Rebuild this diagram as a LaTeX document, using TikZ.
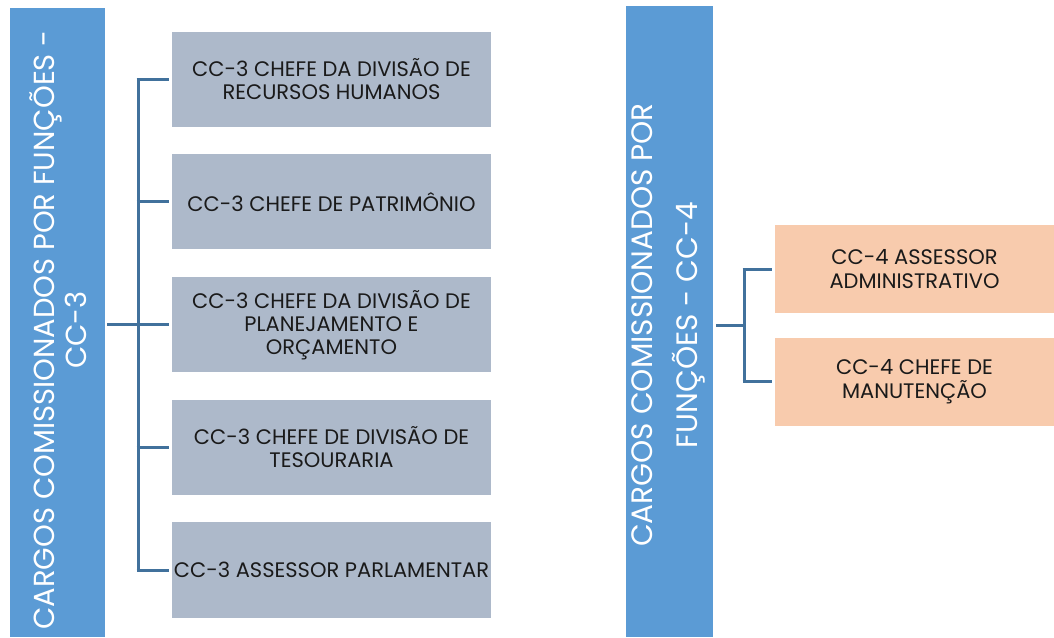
\documentclass[tikz,border=0pt]{standalone}
\usepackage{fontspec}
\setmainfont{Poppins}
\definecolor{barblue}{HTML}{5B9BD5}
\definecolor{boxgray}{HTML}{ADB9CA}
\definecolor{boxpeach}{HTML}{F8CBAD}
\definecolor{linkblue}{HTML}{41719C}
\definecolor{txtdark}{HTML}{1A1A1A}
\tikzset{
  headbar/.style={fill=barblue, draw=none, inner sep=0pt, rectangle},
  headtext/.style={text=white, align=center, inner sep=0pt, font=\fontsize{29}{32}\selectfont},
  headtextwide/.style={text=white, align=center, inner sep=0pt, font=\fontsize{29.5}{45}\selectfont},
  graybox/.style={fill=boxgray, draw=none, inner sep=0pt, minimum width=319pt, minimum height=95pt, align=center, text=txtdark, font=\fontsize{21}{23}\selectfont},
  peachbox/.style={fill=boxpeach, draw=none, inner sep=0pt, minimum width=279pt, minimum height=88pt, align=center, text=txtdark, font=\fontsize{21}{24}\selectfont},
  link/.style={draw=linkblue, line width=3pt}
}
\begin{document}
\begin{tikzpicture}[x=1pt,y=1pt]
\useasboundingbox (0,0) rectangle (1054,637);
\fill[white] (0,0) rectangle (1054,637);

% left group
\node[headbar, minimum width=95pt, minimum height=629pt] (L) at (57.5,314.5) {};
\node[headtext, rotate=90] (Lt) at (58.5,307) {CARGOS COMISSIONADOS POR FUNÇÕES -\\CC-3};

\node[graybox] (b1) at (331.5,557.5) {CC-3 CHEFE DA DIVISÃO DE\\RECURSOS HUMANOS};
\node[graybox] (b2) at (331.5,435) {CC-3 CHEFE DE PATRIMÔNIO};
\node[graybox] (b3) at (331.5,312) {CC-3 CHEFE DA DIVISÃO DE\\PLANEJAMENTO E\\ORÇAMENTO};
\node[graybox] (b4) at (331.5,189.5) {CC-3 CHEFE DE DIVISÃO DE\\TESOURARIA};
\node[graybox] (b5) at (331.5,67) {CC-3 ASSESSOR PARLAMENTAR};

\coordinate (tl) at (138,312);
\coordinate (ls) at (107,312);
\draw[link] (ls) -- (tl);
\draw[link] (tl |- b1) -- (tl |- b5);
\foreach \b in {b1,b2,b3,b4,b5}{
  \draw[link] ([xshift=-1.5pt]tl |- \b) -- ([xshift=-3pt]\b.west);
}

% right group
\node[headbar, minimum width=87pt, minimum height=631pt] (R) at (669.5,315.5) {};
\node[headtextwide, rotate=90] (Rt) at (668.5,312) {CARGOS COMISSIONADOS POR\\FUNÇÕES - CC-4};

\node[peachbox] (p1) at (914.5,367.5) {CC-4 ASSESSOR\\ADMINISTRATIVO};
\node[peachbox] (p2) at (914.5,255) {CC-4 CHEFE DE\\MANUTENÇÃO};

\coordinate (tr) at (744,311);
\coordinate (rs) at (716,311);
\draw[link] (rs) -- (tr);
\draw[link] (tr |- p1) -- (tr |- p2);
\foreach \p in {p1,p2}{
  \draw[link] ([xshift=-1.5pt]tr |- \p) -- ([xshift=-3pt]\p.west);
}
\end{tikzpicture}
\end{document}
